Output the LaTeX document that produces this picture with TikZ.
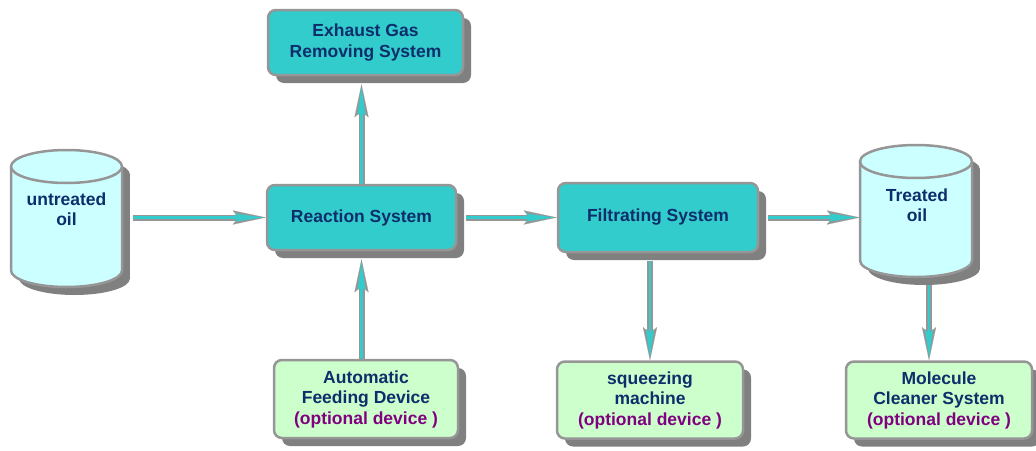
\documentclass[tikz,border=0pt]{standalone}
\usepackage{fontspec}
\setmainfont{Liberation Sans}
\usetikzlibrary{arrows.meta,shadows}
\definecolor{tealfill}{HTML}{33CCCC}
\definecolor{cylfill}{HTML}{CCFFFF}
\definecolor{mintfill}{HTML}{CCFFCC}
\definecolor{bordergray}{HTML}{969696}
\definecolor{shadowgray}{HTML}{808080}
\definecolor{navytext}{HTML}{0D2E6B}
\definecolor{optpurple}{HTML}{800080}
\newcommand\flowarrow[2]{%
  \draw[flowouter] #1 -- #2;
  \draw[flowinner] #1 -- #2;}
\tikzset{
  basebox/.style={rounded corners=8pt, draw=bordergray, line width=2.5pt, align=center,
    font=\bfseries\fontsize{17.5}{20.5}\selectfont, text=navytext, inner sep=0pt,
    general shadow={fill=shadowgray, shadow xshift=8pt, shadow yshift=-8pt}},
  mainbox/.style={basebox, fill=tealfill},
  optbox/.style={basebox, fill=mintfill, minimum width=186pt, minimum height=77pt},
  cyltext/.style={align=center, font=\bfseries\fontsize{17.5}{19.5}\selectfont, text=navytext, inner sep=0pt},
  cylarea/.style={inner sep=0pt, draw=none},
  flowouter/.style={draw=bordergray, line width=6pt,
    -{Stealth[length=33pt,width=14pt,inset=6pt,line width=0.1pt]}},
  flowinner/.style={draw=tealfill, line width=2.5pt, shorten >=3pt,
    -{Stealth[length=28pt,width=8pt,inset=4pt,line width=0.1pt]}},
}
\begin{document}
\begin{tikzpicture}[x=1pt,y=-1pt]
\useasboundingbox (0,0) rectangle (1036,450);

% untreated oil cylinder
\fill[shadowgray] (74.5,174.5) ellipse[x radius=55.5pt, y radius=16.5pt];
\fill[shadowgray] (19,174.5) rectangle (130,278.5);
\fill[shadowgray] (74.5,278.5) ellipse[x radius=55.5pt, y radius=16.5pt];
\fill[cylfill] (11,166.5) rectangle (122,270.5);
\fill[cylfill] (66.5,270.5) ellipse[x radius=55.5pt, y radius=16.5pt];
\draw[bordergray, line width=2.5pt, line join=round]
  (11,166.5) -- (11,270.5) arc[start angle=180, end angle=360, x radius=55.5pt, y radius=16.5pt] -- (122,166.5);
\draw[bordergray, line width=2.5pt, fill=cylfill] (66.5,166.5) ellipse[x radius=55.5pt, y radius=16.5pt];
\node[cylarea, minimum width=111pt, minimum height=137pt] (uoil) at (66.5,218.5) {};
\node[cyltext] (uoiltxt) at (66.5,209) {untreated\\oil};

% treated oil cylinder
\fill[shadowgray] (924,169.5) ellipse[x radius=56pt, y radius=16.5pt];
\fill[shadowgray] (868,169.5) rectangle (980,268.5);
\fill[shadowgray] (924,268.5) ellipse[x radius=56pt, y radius=16.5pt];
\fill[cylfill] (860,161.5) rectangle (972,260.5);
\fill[cylfill] (916,260.5) ellipse[x radius=56pt, y radius=16.5pt];
\draw[bordergray, line width=2.5pt, line join=round]
  (860,161.5) -- (860,260.5) arc[start angle=180, end angle=360, x radius=56pt, y radius=16.5pt] -- (972,161.5);
\draw[bordergray, line width=2.5pt, fill=cylfill] (916,161.5) ellipse[x radius=56pt, y radius=16.5pt];
\node[cylarea, minimum width=112pt, minimum height=132pt] (toil) at (916,211) {};
\node[cyltext] (toiltxt) at (917,205) {Treated\\oil};

% boxes
\node[mainbox, minimum width=195pt, minimum height=65pt] (exh) at (365.5,42.5) {Exhaust Gas\\Removing System};
\node[mainbox, minimum width=189pt, minimum height=65pt] (reac) at (361.5,217.5) {Reaction System};
\node[mainbox, minimum width=200pt, minimum height=69pt] (filt) at (658,217.5) {Filtrating System};
\node[optbox, minimum width=184pt, minimum height=78pt] (feed) at (366,399) {Automatic\\Feeding Device\\\textcolor{optpurple}{(optional device )}};
\node[optbox] (sq) at (650,400) {squeezing\\machine\\\textcolor{optpurple}{(optional device )}};
\node[optbox] (mol) at (939,400) {Molecule\\Cleaner System\\\textcolor{optpurple}{(optional device )}};

% connectors
\flowarrow{([xshift=11pt]reac.west -| uoil.east)}{(reac.west)}
\flowarrow{([xshift=9pt]reac.east)}{(filt.west)}
\flowarrow{([xshift=9pt]filt.east)}{(filt.east -| toil.west)}
\flowarrow{(reac.north)}{([yshift=-8pt]reac.north |- exh.south)}
\flowarrow{(feed.north -| reac.south)}{([yshift=-8pt]reac.south)}
\flowarrow{([yshift=-8pt]sq.north |- filt.south)}{(sq.north)}
\flowarrow{([xshift=13pt,yshift=-8pt]toil.south)}{([xshift=13pt]toil.south |- mol.north)}
\end{tikzpicture}
\end{document}
